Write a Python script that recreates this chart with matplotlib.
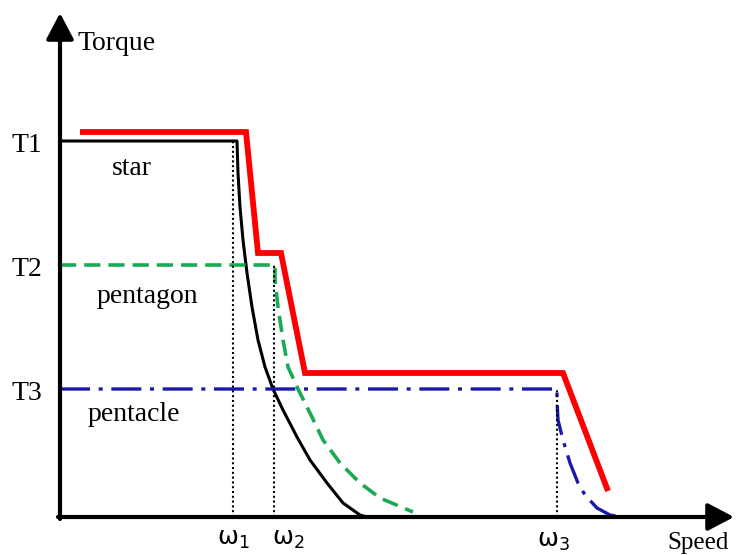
import matplotlib.pyplot as plt

plt.rcParams['font.family'] = ['Liberation Serif', 'DejaVu Serif']
plt.rcParams['mathtext.fontset'] = 'dejavusans'

# torque levels and base speeds of the three winding connections
T1, T2, T3 = 376, 252, 128
w1, w2, w3 = 173, 214, 497

# star connection (black)
star_x = [0, 177, 178, 180, 183, 187, 192, 198, 205, 213, 223, 237, 250, 267, 283, 300, 307]
star_y = [T1, T1, 344, 310, 277, 244, 210, 177, 150, 128, 107, 80, 57, 34, 14, 2, 0]

# pentagon connection (green dashed)
pent_x = [0, 215, 215, 218, 223, 228, 238, 252, 263, 280, 300, 320, 353]
pent_y = [T2, T2, 237, 210, 177, 150, 128, 100, 77, 54, 34, 19, 5]

# pentacle connection (blue dash-dot)
pcl_x = [0, 497, 497, 498, 503, 510, 518, 525, 537, 550, 562]
pcl_y = [T3, T3, 117, 97, 77, 54, 34, 22, 9, 2, 0]

# envelope of the switched machine (red)
env_x = [20, 186, 198, 221, 245, 503, 548]
env_y = [385, 385, 264, 264, 144, 144, 26]

fig = plt.figure(figsize=(7.36, 5.55), dpi=100)
ax = fig.add_axes([0, 0, 1, 1])
ax.set_xlim(-60, 676)
ax.set_ylim(-38, 517)
ax.axis('off')

ax.plot(star_x, star_y, color='black', lw=2.2)
ax.plot(pent_x, pent_y, color='#1aaa55', lw=2.6, linestyle=(0, (4.5, 2.2)))
ax.plot(pcl_x, pcl_y, color='#1a1aa8', lw=2.4, linestyle=(0, (9, 2.6, 1.2, 2.6)))
ax.plot(env_x, env_y, color='#ff0000', lw=4.2, solid_capstyle='butt', solid_joinstyle='miter')

# dotted markers at the base speeds
for w, t in [(w1, T1), (w2, T2), (w3, T3)]:
    ax.plot([w, w], [0, t], color='black', lw=1.5, linestyle=(0, (1, 1.3)))

# axes with arrow heads
arrow = dict(arrowstyle='-|>,head_length=0.8,head_width=0.42', lw=3, color='black',
             mutation_scale=20, shrinkA=0, shrinkB=0)
ax.annotate('', xy=(0, 504), xytext=(0, -2), arrowprops=arrow)
ax.annotate('', xy=(674, 0), xytext=(-2, 0), arrowprops=arrow)

fs = 20
ax.text(17, 474, 'Torque', fontsize=fs, ha='left', va='center')
ax.text(638, -15, 'Speed', fontsize=18, ha='center', va='top')
for t, lab in [(T1, 'T1'), (T2, 'T2'), (T3, 'T3')]:
    ax.text(-33, t - 4, lab, fontsize=fs, ha='center', va='center')

ax.text(52, 342, 'star', fontsize=fs, ha='left', va='baseline')
ax.text(37, 214, 'pentagon', fontsize=fs, ha='left', va='baseline')
ax.text(28, 96, 'pentacle', fontsize=fs, ha='left', va='baseline')

ax.text(w1, -12, r'$\mathrm{ω}_1$', fontsize=18, ha='center', va='top')
ax.text(w2 + 14, -12, r'$\mathrm{ω}_2$', fontsize=18, ha='center', va='top')
ax.text(w3 - 4, -14, r'$\mathrm{ω}_3$', fontsize=18, ha='center', va='top')

fig.savefig('out.png', dpi=100)
